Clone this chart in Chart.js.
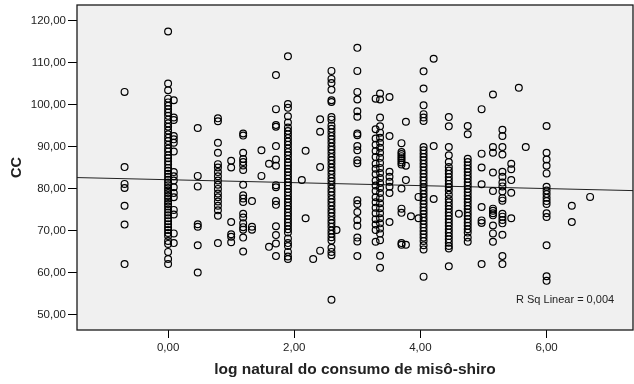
<!DOCTYPE html>
<html>
<head>
<meta charset="utf-8">
<script src="https://cdn.jsdelivr.net/npm/chart.js@4.4.0/dist/chart.umd.min.js"></script>
<style>
html, body { margin: 0; padding: 0; background: #fff; }
</style>
</head>
<body>
<canvas id="scatter" width="634" height="384"></canvas>
<script>
// x positions of the point columns (log natural do consumo)
const xLevels = [-0.69, 0, 0.09, 0.47, 0.79, 1.0, 1.19, 1.33, 1.48, 1.6, 1.71, 1.9, 2.12, 2.18, 2.3, 2.41,
    2.59, 2.67, 3.0, 3.29, 3.36, 3.51, 3.7, 3.77, 3.85, 3.97, 4.05, 4.21, 4.45, 4.61, 4.75, 4.97,
    5.15, 5.3, 5.44, 5.56, 5.67, 6.0, 6.4, 6.69];

// CC values for each column, same order as xLevels
const ccByLevel = [
    [103.1, 85.2, 81.2, 80.2, 76.0, 71.5, 62.1],
    [117.5, 105.1, 103.5, 101.5, 100.6, 99.8, 99.0, 98.2, 97.4, 96.5, 95.6, 94.8, 93.9, 93.0, 92.2, 91.4,
        90.5, 89.6, 88.9, 88.0, 87.3, 86.5, 85.8, 85.0, 84.3, 83.6, 82.9, 82.2, 81.5, 80.9, 80.2, 79.6,
        79.0, 78.3, 77.7, 77.0, 76.4, 75.8, 75.1, 74.4, 73.7, 73.0, 72.3, 71.6, 70.9, 70.2, 69.5, 68.8,
        67.6, 66.9, 65.0, 63.3, 62.1],
    [101.1, 97.0, 96.4, 92.6, 91.8, 91.0, 88.9, 84.0, 83.0, 82.0, 80.4, 79.0, 78.0, 75.0, 73.9, 69.4, 67.1],
    [94.5, 83.1, 80.6, 71.6, 71.0, 66.6, 60.1],
    [96.8, 96.1, 91.0, 88.6, 85.9, 85.1, 84.0, 83.0, 82.0, 81.0, 80.0, 78.9, 78.0, 77.0, 76.0, 74.9, 73.6, 67.1],
    [86.7, 85.1, 72.1, 69.2, 68.6, 67.3],
    [93.2, 92.7, 88.6, 87.1, 86.4, 85.6, 84.5, 81.0, 78.5, 77.7, 76.9, 74.1, 73.2, 71.8, 70.9, 70.3, 68.4, 65.1],
    [77.1, 71.0, 70.3],
    [89.2, 83.1],
    [86.0, 66.2],
    [107.1, 99.0, 95.2, 94.8, 90.2, 87.0, 85.5, 80.9, 80.4, 77.1, 76.2, 71.1, 69.0, 67.0, 64.0],
    [111.6, 100.2, 99.3, 97.3, 95.8, 94.6, 93.8, 93.0, 92.1, 91.3, 90.5, 89.6, 88.8, 88.0, 87.1, 86.3,
        85.6, 84.8, 84.0, 83.2, 82.4, 81.6, 80.8, 80.0, 79.2, 78.4, 77.6, 76.8, 76.0, 75.2, 74.4, 73.6,
        72.8, 72.0, 71.2, 70.4, 69.6, 68.2, 67.1, 66.4, 65.0, 63.9, 63.3],
    [82.1],
    [89.1, 73.0],
    [63.3],
    [96.6, 93.6, 85.2, 65.3],
    [108.1, 106.2, 105.2, 103.6, 101.1, 100.7, 97.1, 96.5, 95.1, 94.3, 93.5, 92.6, 91.8, 91.0, 90.1, 89.3,
        88.5, 87.6, 86.8, 86.0, 85.1, 84.3, 83.5, 82.6, 81.8, 81.0, 80.1, 79.3, 78.5, 77.6, 76.8, 76.0,
        75.1, 74.3, 73.5, 72.6, 71.8, 71.0, 70.1, 69.3, 68.5, 67.7, 66.0, 65.0, 64.2, 53.6],
    [70.2],
    [113.6, 108.1, 103.1, 101.3, 98.5, 97.2, 93.2, 92.8, 90.2, 89.2, 86.8, 86.1, 77.3, 76.4, 74.5, 72.6, 71.2, 68.4, 67.5, 64.0],
    [101.5, 94.2, 92.0, 90.5, 89.0, 87.6, 86.0, 84.8, 83.5, 82.0, 80.8, 79.5, 78.0, 76.8, 75.5, 74.2, 72.8, 71.5, 70.2, 67.4],
    [102.7, 101.3, 97.0, 94.9, 93.4, 92.2, 91.0, 89.8, 88.6, 87.4, 86.2, 85.0, 83.8, 82.6, 81.4, 80.2,
        79.0, 77.8, 76.6, 75.4, 74.2, 73.0, 71.8, 70.6, 69.4, 67.8, 64.1, 61.2],
    [101.9, 92.6, 84.1, 82.9, 81.7, 80.5, 79.0, 72.1],
    [90.9, 88.8, 88.3, 87.8, 87.3, 86.8, 86.3, 85.8, 80.1, 75.3, 74.3, 67.1, 66.7],
    [96.0, 85.5, 82.1, 66.7],
    [73.5],
    [78.1, 73.0],
    [108.0, 103.9, 99.9, 97.8, 97.0, 96.2, 90.0, 89.2, 88.4, 87.6, 86.8, 86.0, 85.2, 84.4, 83.6, 82.8,
        82.0, 81.2, 80.4, 79.6, 78.8, 78.0, 77.2, 76.4, 75.6, 74.8, 74.0, 73.2, 72.4, 71.6, 70.8, 70.0,
        69.2, 68.4, 67.6, 66.6, 65.6, 59.1],
    [111.0, 90.2, 77.6],
    [97.1, 94.9, 90.0, 88.0, 86.4, 85.2, 84.4, 83.6, 82.8, 82.0, 81.2, 80.4, 79.6, 78.6, 77.6, 76.8,
        76.0, 75.2, 74.4, 73.6, 72.8, 72.0, 71.2, 70.4, 69.6, 68.8, 68.0, 67.2, 66.4, 65.8, 61.6],
    [74.1],
    [95.0, 93.0, 87.2, 86.4, 85.6, 84.8, 84.0, 83.2, 82.4, 81.6, 80.8, 80.0, 79.2, 78.4, 77.6, 76.8,
        76.0, 75.2, 74.4, 73.6, 72.8, 72.0, 71.2, 70.4, 69.6, 68.4, 67.4],
    [99.0, 88.4, 85.1, 81.1, 75.7, 72.5, 71.9, 62.1],
    [102.5, 90.0, 88.6, 83.9, 79.5, 75.3, 74.8, 74.2, 73.7, 71.3, 69.4, 67.4],
    [94.1, 92.6, 90.0, 88.2, 84.1, 82.9, 81.5, 80.6, 79.4, 77.8, 77.2, 74.1, 73.4, 72.6, 71.8, 69.1, 64.0, 62.1],
    [86.0, 84.7, 82.1, 79.1, 73.0],
    [104.1],
    [90.0],
    [95.0, 88.6, 87.0, 85.5, 83.7, 80.5, 79.6, 78.8, 77.9, 77.1, 76.4, 74.2, 73.3, 66.6, 59.2, 58.1],
    [76.0, 72.1],
    [78.1]
];

// linear fit line (R Sq Linear = 0,004)
const fitX = [-1.444, 7.37];
const fitY = [82.7, 79.6];

const xTicks = [0, 2, 4, 6];
const yTicks = [50, 60, 70, 80, 90, 100, 110, 120];

const FONT = "'Liberation Sans', Arial, sans-serif";
const comma = v => v.toFixed(2).replace(".", ",");

const points = [];
xLevels.forEach((x, i) => ccByLevel[i].forEach(y => points.push({ x, y })));
const fitLine = fitX.map((x, i) => ({ x, y: fitY[i] }));

const frame = {
    id: "frame",
    beforeDatasetsDraw(chart) {
        const { ctx, chartArea: a } = chart;
        ctx.save();
        ctx.fillStyle = "#f0f0f0";
        ctx.fillRect(a.left, a.top, a.right - a.left, a.bottom - a.top);
        ctx.restore();
    },
    afterDraw(chart) {
        const { ctx, chartArea: a } = chart;
        ctx.save();
        ctx.strokeStyle = "#1a1a1a";
        ctx.lineWidth = 1.3;
        ctx.strokeRect(a.left, a.top, a.right - a.left, a.bottom - a.top);
        ctx.fillStyle = "#222";
        ctx.font = "11px " + FONT;
        ctx.textBaseline = "middle";
        ctx.fillText("R Sq Linear = 0,004", a.right - 117, a.bottom - 30);
        ctx.restore();
    }
};

new Chart(document.getElementById("scatter").getContext("2d"), {
    type: "scatter",
    data: {
        datasets: [
            {
                data: points,
                pointStyle: "circle",
                pointRadius: 3.4,
                pointHoverRadius: 3.4,
                borderWidth: 1.2,
                borderColor: "#000",
                backgroundColor: "rgba(0,0,0,0)"
            },
            {
                data: fitLine,
                showLine: true,
                pointRadius: 0,
                borderWidth: 1,
                borderColor: "#222"
            }
        ]
    },
    options: {
        responsive: false,
        animation: false,
        events: [],
        layout: { autoPadding: false, padding: { top: 5, right: 1, left: 0, bottom: 0 } },
        plugins: { legend: { display: false }, tooltip: { enabled: false } },
        scales: {
            x: {
                type: "linear",
                min: -1.444,
                max: 7.37,
                afterBuildTicks: s => { s.ticks = xTicks.map(v => ({ value: v })); },
                afterFit: s => { s.height = 54; s.paddingLeft = 0; s.paddingRight = 0; },
                border: { display: false },
                grid: { drawOnChartArea: false, drawTicks: true, tickLength: 8, tickColor: "#000", lineWidth: 1 },
                ticks: { font: { family: FONT, size: 11.5 }, color: "#222", padding: 3, maxRotation: 0, autoSkip: false, callback: comma },
                title: {
                    display: true,
                    text: "log natural do consumo de misô-shiro",
                    font: { family: FONT, size: 15.5, weight: "bold" },
                    color: "#222",
                    padding: { top: 0, bottom: 5 }
                }
            },
            y: {
                type: "linear",
                min: 46.4,
                max: 123.8,
                afterBuildTicks: s => { s.ticks = yTicks.map(v => ({ value: v })); },
                afterFit: s => { s.width = 77; s.paddingTop = 0; s.paddingBottom = 0; },
                border: { display: false },
                grid: { drawOnChartArea: false, drawTicks: true, tickLength: 9, tickColor: "#000", lineWidth: 1 },
                ticks: { font: { family: FONT, size: 11.5 }, color: "#222", padding: 2, autoSkip: false, callback: comma },
                title: {
                    display: true,
                    text: "CC",
                    font: { family: FONT, size: 14.5, weight: "bold" },
                    color: "#222",
                    padding: { top: 8, bottom: 0 }
                }
            }
        }
    },
    plugins: [frame]
});
</script>
</body>
</html>
